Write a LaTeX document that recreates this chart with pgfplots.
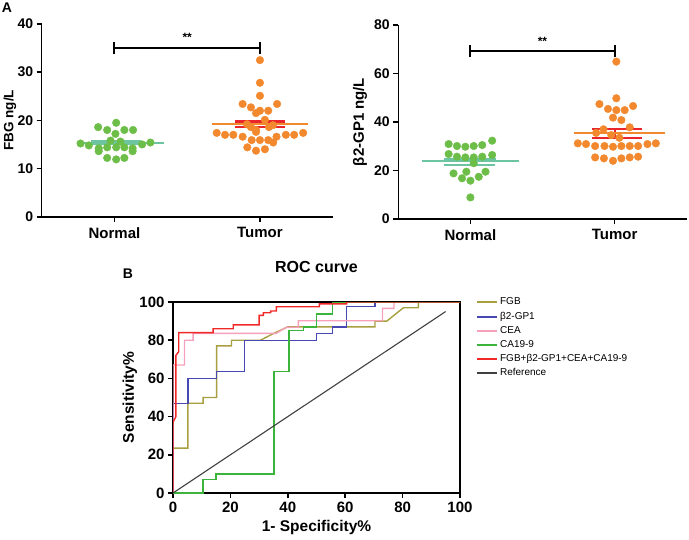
\documentclass[border=0pt]{standalone}
\usepackage{fontspec}
\setmainfont{Liberation Sans}
\usepackage{pgfplots}
\pgfplotsset{compat=1.18}

\definecolor{ngreen}{HTML}{6CBE48}
\definecolor{torange}{HTML}{F3892E}
\definecolor{nteal}{HTML}{6CC5A0}
\definecolor{tred}{HTML}{E9242B}
\definecolor{rocfgb}{HTML}{A8A040}
\definecolor{rocbeta}{HTML}{4848B2}
\definecolor{roccea}{HTML}{F6A0BA}
\definecolor{rocca}{HTML}{3CB43C}
\definecolor{roccomb}{HTML}{F02828}
\definecolor{rocref}{HTML}{404040}

\pgfplotsset{
  dotplot/.style={
    scale only axis, anchor=south west,
    axis x line=bottom, axis y line=left,
    axis line style={-, line width=1.6pt},
    tick style={line width=1.6pt, black},
    major tick length=5pt, tick align=outside,
    xmin=0.5, xmax=2.5, xtick={1,2}, xticklabels={Normal,Tumor},
    xticklabel style={font=\fontsize{15}{18}\selectfont\bfseries, yshift=-2pt},
    yticklabel style={font=\fontsize{14}{16}\selectfont\bfseries},
    /pgf/number format/assume math mode=true,
    ylabel style={font=\fontsize{13.5}{16}\selectfont\bfseries, anchor=center},
    clip=false,
  },
  dots/.style={only marks, mark=*, mark size=3.8pt, color=#1, mark options={fill=#1}},
}

\begin{document}
\begin{tikzpicture}
\useasboundingbox (0pt,0pt) rectangle (689pt,-539pt);

\node[font=\fontsize{14}{16}\selectfont\bfseries] at (7pt,-8pt) {A};
\node[font=\fontsize{14}{16}\selectfont\bfseries] at (128pt,-274pt) {B};

% ---- FBG ----
\begin{axis}[dotplot, at={(41.7pt,-216.7pt)}, width=291pt, height=192.7pt,
    ymin=0, ymax=40, ytick={0,10,...,40},
    ylabel={FBG ng/L}, ylabel style={at={(axis description cs:-0.109,0.5)}}]
\addplot[dots=ngreen] coordinates {
  (1.012,19.5) (0.888,18.6) (0.950,18.0) (1.007,17.2) (1.068,18.0) (1.128,18.0)
  (0.767,15.2) (0.824,14.8) (1.190,15.0) (1.247,15.4)
  (0.892,14.2) (0.950,14.4) (1.012,14.4) (1.068,14.4) (1.125,14.2)
  (0.892,13.6) (1.125,13.6) (0.950,12.2) (1.012,11.9) (1.068,12.2)
  (0.973,15.8) (1.041,15.6)
};
\addplot[dots=torange] coordinates {
  (2.000,32.5) (2.000,27.8) (2.000,25.1)
  (1.881,23.4) (1.938,22.7) (2.118,23.4) (1.973,21.5) (2.000,22.0) (2.057,22.0)
  (2.034,20.1) (1.911,19.2) (2.089,19.0) (1.938,18.6) (2.062,18.6) (1.973,18.0)
  (1.703,17.4) (1.760,17.0) (1.817,17.0) (2.178,17.0) (2.235,17.0) (2.297,17.4)
  (1.881,16.6) (2.114,16.6) (1.943,15.9) (2.000,15.9) (2.057,15.9) (2.091,15.4)
  (1.913,14.4) (1.973,13.7) (2.034,14.0) (1.973,17.6)
};
\addplot[nteal, line width=2pt] coordinates {(0.74,15.4) (1.34,15.4)};
\addplot[nteal, line width=5.5pt] coordinates {(0.84,15.45) (1.18,15.45)};
\addplot[tred, line width=2.5pt] coordinates {(1.83,19.75) (2.17,19.75)};
\addplot[tred, line width=2.5pt] coordinates {(1.83,18.65) (2.17,18.65)};
\addplot[torange, line width=2pt] coordinates {(1.67,19.2) (2.33,19.2)};
\addplot[black, line width=2pt] coordinates {(1,35) (2,35)};
\addplot[black, line width=2pt] coordinates {(1,33.7) (1,36.2)};
\addplot[black, line width=2pt] coordinates {(2,33.7) (2,36.2)};
\node[font=\fontsize{12}{14}\selectfont\bfseries, anchor=south] at (axis cs:1.5,35.6) {**};
\end{axis}

% ---- beta2-GP1 ----
\begin{axis}[dotplot, at={(398.3pt,-219pt)}, width=288.4pt, height=194pt,
    ymin=0, ymax=80, ytick={0,20,...,80},
    ylabel={β2-GP1\hspace{4pt}ng/L},
    ylabel style={font=\fontsize{15}{18}\selectfont\bfseries, at={(axis description cs:-0.133,0.5)}}]
\addplot[dots=ngreen] coordinates {
  (0.849,30.9) (0.907,30.1) (0.965,29.8) (1.023,30.1) (1.082,30.5) (1.151,32.3)
  (0.849,26.8) (0.907,25.7) (0.965,25.4) (1.023,25.4) (1.082,25.7) (1.151,26.4)
  (1.023,23.0) (0.883,18.8) (0.972,19.5) (1.105,19.5)
  (0.942,16.8) (1.058,17.4) (1.000,15.8) (1.000,8.9)
};
\addplot[dots=torange] coordinates {
  (2.012,64.9) (2.012,49.8) (1.895,47.4) (1.954,45.4) (2.012,44.9) (2.070,44.9)
  (2.128,46.6) (1.989,41.8) (2.047,40.8)
  (1.923,37.0) (2.105,37.8) (1.977,34.6) (2.033,33.5) (1.872,35.5)
  (1.745,31.2) (1.802,30.9) (1.865,30.1) (1.930,30.1) (1.989,29.8)
  (2.047,30.1) (2.105,30.1) (2.163,30.1) (2.228,30.9) (2.286,31.2)
  (1.865,25.4) (1.926,25.0) (1.989,24.0) (2.047,25.0) (2.105,25.4) (2.163,25.7)
};
\addplot[nteal, line width=2pt] coordinates {(0.663,24.0) (1.337,24.0)};
\addplot[nteal, line width=2.5pt] coordinates {(0.82,24.5) (1.18,24.5)};
\addplot[nteal, line width=2.5pt] coordinates {(0.82,22.3) (1.17,22.3)};
\addplot[tred, line width=2.2pt] coordinates {(1.84,37.0) (2.19,37.0)};
\addplot[tred, line width=2.2pt] coordinates {(1.84,33.5) (2.19,33.5)};
\addplot[tred, line width=2.2pt] coordinates {(2.0,33.5) (2.0,37.0)};
\addplot[torange, line width=2pt] coordinates {(1.72,35.6) (2.35,35.6)};
\addplot[black, line width=2pt] coordinates {(1,69.4) (2,69.4)};
\addplot[black, line width=2pt] coordinates {(1,66.7) (1,71.8)};
\addplot[black, line width=2pt] coordinates {(2,66.7) (2,71.8)};
\node[font=\fontsize{12}{14}\selectfont\bfseries, anchor=south] at (axis cs:1.5,70.2) {**};
\end{axis}

% ---- ROC ----
\begin{axis}[scale only axis, anchor=south west, at={(173pt,-493pt)},
    width=287pt, height=191pt,
    xmin=0, xmax=100, ymin=0, ymax=100,
    xtick={0,20,...,100}, ytick={0,20,...,100},
    xtick pos=bottom, ytick pos=left, tick align=outside, major tick length=5pt,
    axis line style={line width=1.6pt}, tick style={line width=1.6pt, black},
    /pgf/number format/assume math mode=true,
    ticklabel style={font=\fontsize{15}{18}\selectfont\bfseries},
    title={ROC curve},
    title style={font=\fontsize{16}{19}\selectfont\bfseries, at={(axis description cs:0.5,1.152)}, anchor=center},
    xlabel={1- Specificity\%},
    xlabel style={font=\fontsize{15.5}{18}\selectfont\bfseries, at={(axis description cs:0.5,-0.178)}, anchor=center},
    ylabel={Sensitivity\%},
    ylabel style={font=\fontsize{15.5}{18}\selectfont\bfseries, at={(axis description cs:-0.15,0.5)}, anchor=center},
    legend image code/.code={\draw[#1, line width=2pt] (0pt,0pt) -- (20pt,0pt);},
    legend cell align=left,
    legend style={at={(axis description cs:1.045,1.047)}, anchor=north west, draw=none,
      fill=none, font=\fontsize{10}{12}\selectfont,
      nodes={text height=7.2pt, text depth=2pt, inner ysep=2.5pt}},
]
\addplot[draw=rocfgb, line width=1.4pt] coordinates {
  (0,0) (0,23.5) (5.2,23.5) (5.2,47) (10.5,47) (10.5,50) (15.2,50) (15.2,77)
  (20.4,77) (20.4,80) (30.5,80) (35,83.5) (40,87) (70.4,87) (70.4,90) (74.5,90)
  (80.3,97) (85.5,97) (85.5,100) (100,100)
};
\addplot[draw=rocbeta, line width=1.4pt] coordinates {
  (0,0) (0,47) (5.2,47) (5.2,60) (15.2,60) (15.2,63.5) (25,63.5) (25,80) (50,80)
  (50,83.6) (55.5,83.6) (55.5,87) (60.5,87) (60.5,97.5) (70.4,97.5) (70.4,100) (100,100)
};
\addplot[draw=roccea, line width=1.4pt] coordinates {
  (0,0) (0,67) (4,67) (4,80) (7,80) (7,83.6) (36,83.6) (39.5,86.8) (43.7,86.8)
  (43.7,90.2) (73,90.2) (73,96.7) (77,96.7) (77,100) (100,100)
};
\addplot[draw=rocca, line width=1.5pt] coordinates {
  (0,0) (10.4,0) (10.4,7) (15,7) (15,10) (35.2,10) (35.2,63.5) (40.4,63.5) (40.4,85)
  (45.4,85) (45.4,87) (50,87) (50,93.7) (55.5,93.7) (55.5,100) (100,100)
};
\addplot[draw=roccomb, line width=1.4pt] coordinates {
  (0,0) (0,37) (1,40) (1,72) (2,74) (2,84) (14,84) (14,86) (21,86) (21,88) (30,88)
  (30,93) (31.5,93) (31.5,94.4) (34,94.4) (34,95.3) (36,95.3) (36,97.5) (51,97.5)
  (51,99) (60.5,99) (60.5,100) (100,100)
};
\addplot[draw=rocref, line width=1.1pt] coordinates {(0,0) (95,95)};
\legend{FGB, β2-GP1, CEA, CA19-9, FGB+β2-GP1+CEA+CA19-9, Reference}
\end{axis}
\end{tikzpicture}
\end{document}
